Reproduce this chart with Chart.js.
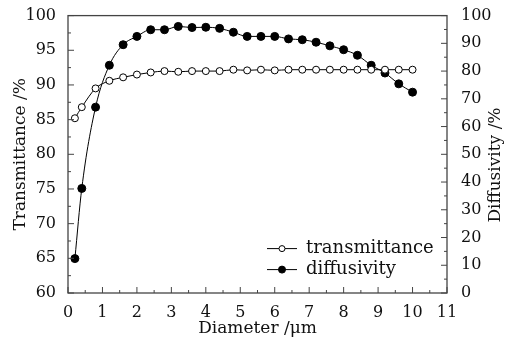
<!DOCTYPE html>
<html>
<head>
<meta charset="utf-8">
<script src="https://cdn.jsdelivr.net/npm/chart.js@4"></script>
<style>
  html, body { margin: 0; padding: 0; background: #fff; }
  #wrap { width: 518px; height: 342px; }
</style>
</head>
<body>
<div id="wrap"><canvas id="chart"></canvas></div>
<script>
const diameter = [0.2, 0.4, 0.8, 1.2, 1.6, 2.0, 2.4, 2.8, 3.2, 3.6, 4.0, 4.4, 4.8, 5.2, 5.6, 6.0, 6.4, 6.8, 7.2, 7.6, 8.0, 8.4, 8.8, 9.2, 9.6, 10.0];
const transmittance = [85.2, 86.8, 89.5, 90.6, 91.1, 91.5, 91.8, 92.0, 91.9, 92.0, 92.0, 92.0, 92.2, 92.1, 92.2, 92.1, 92.2, 92.2, 92.2, 92.2, 92.2, 92.2, 92.2, 92.2, 92.2, 92.2];
const diffusivity = [12.4, 37.7, 67.0, 82.1, 89.5, 92.5, 94.9, 94.9, 96.1, 95.7, 95.8, 95.4, 94.0, 92.5, 92.5, 92.5, 91.6, 91.3, 90.4, 89.1, 87.7, 85.7, 82.1, 79.3, 75.4, 72.4];
const seriesNames = ["transmittance", "diffusivity"];
const xTitle = "Diameter /\u03bcm";
const yLeftTitle = "Transmittance /%";
const yRightTitle = "Diffusivity /%";

const FONT = "'DejaVu Serif', 'Liberation Serif', serif";
const AXIS = "#444";

// inward ticks, frame, right title and legend drawn on top
const decorations = {
  id: "decorations",
  afterDraw(chart) {
    const ctx = chart.ctx;
    const a = chart.chartArea;
    const {x, y, y2} = chart.scales;
    ctx.save();
    ctx.strokeStyle = AXIS;
    ctx.lineWidth = 1.3;
    ctx.strokeRect(a.left, a.top, a.right - a.left, a.bottom - a.top);

    ctx.lineWidth = 1;
    ctx.beginPath();
    for (let v = 0; v <= 11; v += 0.5) {
      const px = x.getPixelForValue(v);
      const len = Number.isInteger(v) ? 6 : 3;
      ctx.moveTo(px, a.bottom); ctx.lineTo(px, a.bottom - len);
    }
    for (let v = 60; v <= 100; v += 2.5) {
      const py = y.getPixelForValue(v);
      const len = v % 5 === 0 ? 6 : 3;
      ctx.moveTo(a.left, py); ctx.lineTo(a.left + len, py);
    }
    for (let v = 0; v <= 100; v += 5) {
      const py = y2.getPixelForValue(v);
      const len = v % 10 === 0 ? 6 : 3;
      ctx.moveTo(a.right, py); ctx.lineTo(a.right - len, py);
    }
    ctx.stroke();

    // right axis title, reading bottom to top
    ctx.fillStyle = "#111";
    ctx.font = "17px " + FONT;
    ctx.textAlign = "center";
    ctx.textBaseline = "middle";
    ctx.translate(496, 165);
    ctx.rotate(-Math.PI / 2);
    ctx.fillText(yRightTitle, 0, 0);
    ctx.restore();

    // legend inside the plot
    ctx.save();
    const lx = a.left + 199, ly = a.top + 233;
    chart.data.datasets.forEach((ds, i) => {
      const yy = ly + i * 21;
      ctx.strokeStyle = "#000";
      ctx.lineWidth = 1;
      ctx.beginPath();
      ctx.moveTo(lx, yy); ctx.lineTo(lx + 30, yy);
      ctx.stroke();
      ctx.beginPath();
      ctx.arc(lx + 15, yy, ds.pointRadius - 0.5, 0, Math.PI * 2);
      ctx.fillStyle = ds.pointBackgroundColor;
      ctx.fill();
      ctx.stroke();
      ctx.fillStyle = "#111";
      ctx.font = "18px " + FONT;
      ctx.textAlign = "left";
      ctx.textBaseline = "middle";
      ctx.fillText(ds.label, lx + 39, yy);
    });
    ctx.restore();
  }
};

new Chart(document.getElementById("chart"), {
  type: "line",
  data: {
    datasets: [
      {
        label: seriesNames[0],
        data: diameter.map((d, i) => ({x: d, y: transmittance[i]})),
        yAxisID: "y",
        borderColor: "#000",
        borderWidth: 1,
        pointRadius: 3.5,
        pointBackgroundColor: "#fff",
        pointBorderColor: "#000",
        pointBorderWidth: 1,
        cubicInterpolationMode: "monotone"
      },
      {
        label: seriesNames[1],
        data: diameter.map((d, i) => ({x: d, y: diffusivity[i]})),
        yAxisID: "y2",
        borderColor: "#000",
        borderWidth: 1,
        pointRadius: 4,
        pointBackgroundColor: "#000",
        pointBorderColor: "#000",
        pointBorderWidth: 1,
        cubicInterpolationMode: "monotone"
      }
    ]
  },
  options: {
    responsive: true,
    maintainAspectRatio: false,
    animation: false,
    layout: { padding: { top: 14, left: 0, right: 0, bottom: 0 } },
    plugins: { legend: { display: false }, tooltip: { enabled: false } },
    scales: {
      x: {
        type: "linear",
        min: 0, max: 11,
        grid: { display: false },
        border: { display: false },
        ticks: { stepSize: 1, color: "#111", font: { family: FONT, size: 16 }, padding: 2, maxRotation: 0 },
        title: { display: true, text: xTitle, color: "#111", font: { family: FONT, size: 17 }, padding: { top: 0, bottom: 3 } },
        afterFit(s) { s.height = 49; }
      },
      y: {
        position: "left",
        min: 60, max: 100,
        grid: { display: false },
        border: { display: false },
        ticks: { stepSize: 5, color: "#111", font: { family: FONT, size: 16 }, padding: 4 },
        title: { display: true, text: yLeftTitle, color: "#111", font: { family: FONT, size: 17 }, padding: { top: 10, bottom: 0 } },
        afterFit(s) { s.width = 68; }
      },
      y2: {
        position: "right",
        min: 0, max: 100,
        grid: { display: false },
        border: { display: false },
        ticks: { stepSize: 10, color: "#111", font: { family: FONT, size: 16 }, padding: 6 },
        afterFit(s) { s.width = 71; }
      }
    }
  },
  plugins: [decorations]
});
</script>
</body>
</html>
